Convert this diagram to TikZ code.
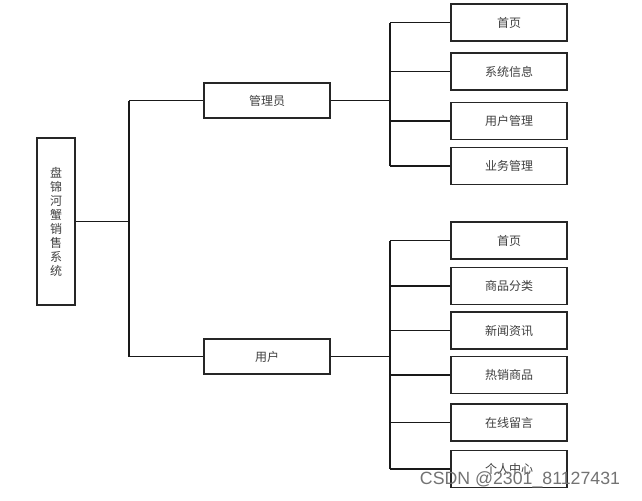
\documentclass[tikz,border=0pt]{standalone}
\usepackage{fontspec}
\setmainfont{Liberation Sans}
\newfontfamily\cjk{Noto Sans CJK SC}
\begin{document}
\begin{tikzpicture}[x=0.75pt,y=-0.75pt,
  box/.style={draw=black!85,line width=1.1pt,fill=white,inner sep=0pt,font=\cjk\fontsize{9}{10.5}\selectfont,text=black!75},
  conn/.style={draw=black!90,line width=1.2pt}]
\useasboundingbox (0,0) rectangle (642,500);
\fill[white] (0,0) rectangle (642,500);
% root
\node[box,minimum width=28.5pt,minimum height=125pt,align=center] (root) at (56,221.5) {盘\\锦\\河\\蟹\\销\\售\\系\\统};
% level 1
\node[box,minimum width=94.5pt,minimum height=26.5pt] (adm) at (267,100.5) {管理员};
\node[box,minimum width=94.5pt,minimum height=26.5pt] (usr) at (267,356.5) {用户};
% admin children
\tikzset{leaf/.style={box,minimum width=87pt,minimum height=27.5pt}}
\node[leaf] (a1) at (509,22.5) {首页};
\node[leaf] (a2) at (509,71.5) {系统信息};
\node[leaf] (a3) at (509,121) {用户管理};
\node[leaf] (a4) at (509,166) {业务管理};
% user children
\node[leaf] (u1) at (509,240.5) {首页};
\node[leaf] (u2) at (509,286) {商品分类};
\node[leaf] (u3) at (509,330.5) {新闻资讯};
\node[leaf] (u4) at (509,375) {热销商品};
\node[leaf] (u5) at (509,422.5) {在线留言};
\node[leaf] (u6) at (509,469) {个人中心};
% coordinates
\coordinate (t) at (129,0);
\coordinate (b) at (390,0);
% connectors
\draw[conn] (root.east) -- (root.east -| t);
\draw[conn] (adm.west -| t) -- (usr.west -| t);
\draw[conn] (adm.west -| t) -- (adm.west);
\draw[conn] (usr.west -| t) -- (usr.west);
\draw[conn] (adm.east) -- (adm.east -| b);
\draw[conn] (usr.east) -- (usr.east -| b);
\draw[conn] (a1.west -| b) -- (a4.west -| b);
\foreach \n in {a1,a2,a3,a4} \draw[conn] (\n.west -| b) -- (\n.west);
\draw[conn] (u1.west -| b) -- (u6.west -| b);
\foreach \n in {u1,u2,u3,u4,u5,u6} \draw[conn] (\n.west -| b) -- (\n.west);
% watermark
\node[font=\fontsize{13.3}{15}\selectfont,text=black!55,inner sep=0pt] (wm) at (520,480) {CSDN @2301\_81127431};
\end{tikzpicture}
\end{document}
